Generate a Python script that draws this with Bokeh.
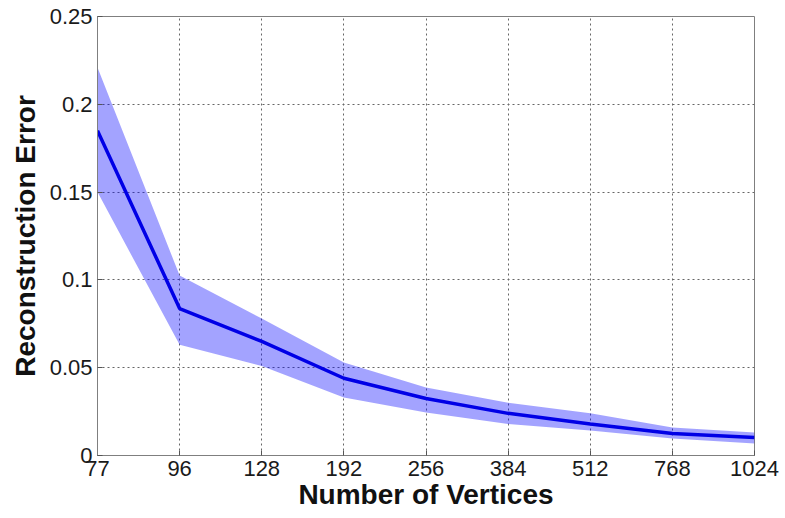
from bokeh.plotting import figure
from bokeh.models import FixedTicker, ColumnDataSource, Range1d
from bokeh.embed import file_html
from bokeh.resources import INLINE

vertices = ["77", "96", "128", "192", "256", "384", "512", "768", "1024"]
mean_err = [0.185, 0.0837, 0.0650, 0.0440, 0.0325, 0.0240, 0.0180, 0.0125, 0.0103]
upper_err = [0.221, 0.1025, 0.0780, 0.0530, 0.0387, 0.0300, 0.0240, 0.0160, 0.0131]
lower_err = [0.150, 0.0630, 0.0510, 0.0330, 0.0245, 0.0180, 0.0142, 0.0097, 0.0068]
y_ticks = [0, 0.05, 0.1, 0.15, 0.2, 0.25]
y_tick_labels = ["0", "0.05", "0.1", "0.15", "0.2", "0.25"]

idx = list(range(len(vertices)))
src = ColumnDataSource(dict(x=idx, mean=mean_err, upper=upper_err, lower=lower_err))

p = figure(frame_width=657, frame_height=439, output_backend="svg", toolbar_location=None,
           x_range=Range1d(0, len(vertices) - 1), y_range=Range1d(0, 0.25),
           min_border_left=97, min_border_top=16, min_border_right=26, min_border_bottom=55)

p.varea(x="x", y1="lower", y2="upper", source=src, fill_color="#0000ff", fill_alpha=0.36)
p.line(x="x", y="mean", source=src, line_color="#0000e6", line_width=3.5)

p.xaxis.ticker = FixedTicker(ticks=idx)
p.xaxis.major_label_overrides = {i: v for i, v in zip(idx, vertices)}
p.yaxis.ticker = FixedTicker(ticks=y_ticks)
p.yaxis.major_label_overrides = {t: l for t, l in zip(y_ticks, y_tick_labels)}

p.xaxis.axis_label = "Number of Vertices"
p.yaxis.axis_label = "Reconstruction Error"

for ax in (p.xaxis[0], p.yaxis[0]):
    ax.axis_label_text_font = "Liberation Sans"
    ax.axis_label_text_font_style = "bold"
    ax.axis_label_text_font_size = "28px"
    ax.axis_label_text_color = "#111111"
    ax.major_label_text_font = "Liberation Sans"
    ax.major_label_text_font_size = "22px"
    ax.major_label_text_color = "#1a1a1a"
    ax.axis_line_color = "#7f7f7f"
    ax.major_tick_line_color = "#555555"
    ax.major_tick_in = 5
    ax.major_tick_out = 0
    ax.minor_tick_line_color = None
    ax.major_label_standoff = 5

p.xaxis.axis_label_standoff = 0
p.yaxis.axis_label_standoff = 6

p.outline_line_color = "#7f7f7f"
p.outline_line_width = 1
p.grid.grid_line_color = "#666666"
p.grid.grid_line_dash = "2 3"
p.grid.grid_line_width = 1
p.background_fill_color = "white"
p.border_fill_color = "white"

open("out.html", "w").write(file_html(p, INLINE))
